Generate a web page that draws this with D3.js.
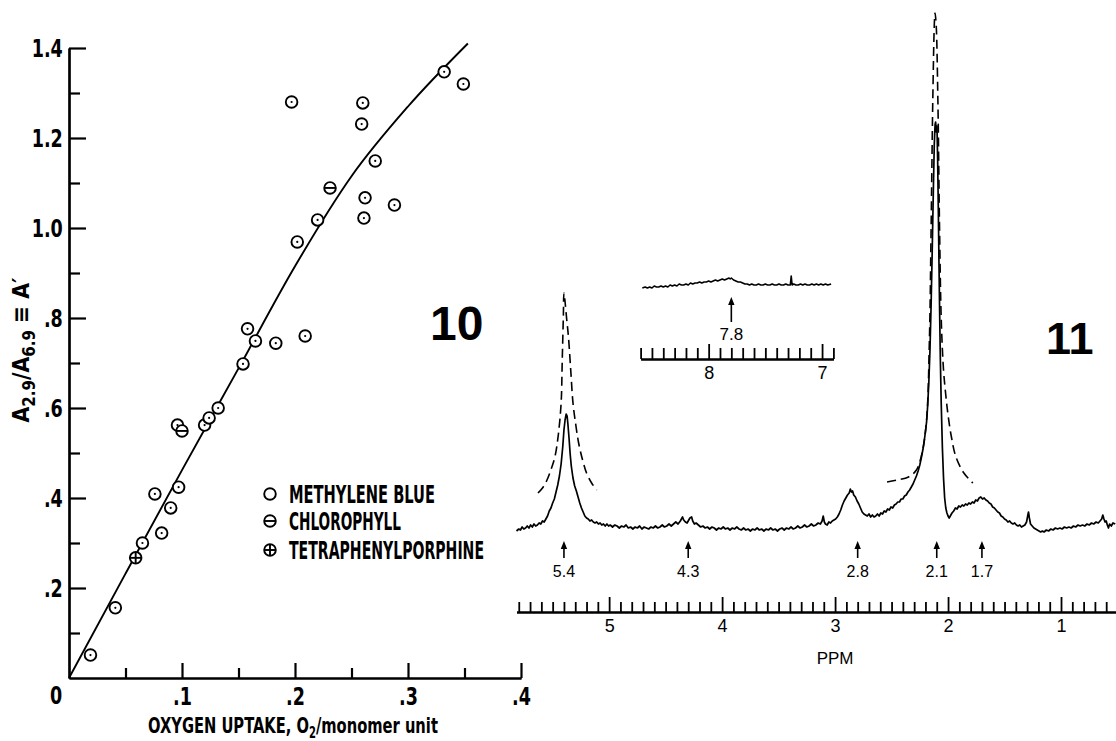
<!DOCTYPE html>
<html><head><meta charset="utf-8">
<script src="https://cdn.jsdelivr.net/npm/d3@7"></script>
<style>
  html,body{margin:0;padding:0;background:#fff}
  svg{display:block}
</style>
</head><body>
<svg id="fig" width="1116" height="741"></svg>
<script>
// ---------------- Fig. 10: A' versus oxygen uptake ----------------
const methyleneBlue = [
  [0.019,0.051],[0.041,0.156],[0.065,0.300],[0.076,0.409],[0.082,0.322],[0.090,0.378],
  [0.096,0.562],[0.097,0.424],[0.120,0.562],[0.124,0.578],[0.132,0.600],[0.154,0.698],
  [0.158,0.776],[0.165,0.749],[0.183,0.744],[0.197,1.280],[0.202,0.969],[0.209,0.760],
  [0.220,1.018],[0.259,1.231],[0.260,1.278],[0.261,1.022],[0.262,1.067],[0.271,1.149],
  [0.288,1.051],[0.332,1.347],[0.349,1.320]
];
const chlorophyll = [[0.100,0.549],[0.231,1.089]];
const tetraphenylporphine = [[0.059,0.267]];
const fitCurve = [[0,0],[0.05,0.232],[0.10,0.462],[0.15,0.688],[0.20,0.915],[0.25,1.115],[0.30,1.27],[0.353,1.41]];

const yMajorTicks = [0.2,0.4,0.6,0.8,1.0,1.2,1.4];
const yTickLabels = [".2",".4",".6",".8","1.0","1.2","1.4"];
const yMinorTicks = [0.1,0.3,0.5,0.7,0.9,1.1,1.3];
const xMajorTicks = [0.1,0.2,0.3,0.4];
const xTickLabels = [".1",".2",".3",".4"];
const xMinorTicks = [0.05,0.15,0.25,0.35];
const legendNames = ["METHYLENE BLUE","CHLOROPHYLL","TETRAPHENYLPORPHINE"];

// ---------------- Fig. 11: NMR spectrum ----------------
// [ppm, intensity] solid trace
const spectrumTrace = [
  [5.82,-1],[5.80,1],[5.785,0],[5.77,3],[5.755,1],[5.74,2],[5.725,4],[5.71,2],[5.695,5],[5.68,3],
  [5.665,6],[5.65,4],[5.635,5],[5.62,7],[5.605,6],[5.59,9],[5.575,8],[5.56,11],[5.545,14],[5.53,19],
  [5.515,22],[5.50,27],[5.485,31],[5.47,38],[5.455,45],[5.44,54],[5.425,66],[5.41,84],[5.40,100],
  [5.39,110],[5.38,116],[5.372,114],[5.365,106],[5.355,92],[5.345,76],[5.335,64],[5.32,52],[5.305,44],
  [5.29,39],[5.275,33],[5.26,27],[5.245,22],[5.23,18],[5.215,14],[5.20,12],[5.185,11],[5.17,9],
  [5.155,10],[5.14,8],[5.125,7],[5.11,8],[5.095,6],[5.08,7],[5.065,5],[5.05,6],[5.035,4],[5.02,6],
  [5.005,4],[4.99,5],[4.97,3],[4.95,5],[4.93,4],[4.91,2],[4.89,4],[4.87,3],[4.85,5],[4.83,2],[4.81,3],
  [4.79,1],[4.77,3],[4.75,2],[4.73,4],[4.71,1],[4.69,3],[4.67,2],[4.65,1],[4.63,3],[4.61,2],[4.59,4],
  [4.57,2],[4.55,3],[4.53,5],[4.51,3],[4.49,4],[4.47,6],[4.45,4],[4.43,6],[4.41,8],[4.39,6],[4.37,9],
  [4.35,13],[4.34,10],[4.325,8],[4.31,7],[4.30,9],[4.285,12],[4.27,13],[4.26,9],[4.245,6],[4.23,7],
  [4.21,5],[4.19,3],[4.17,4],[4.15,2],[4.13,3],[4.11,1],[4.09,3],[4.07,2],[4.05,0],[4.03,2],[4.01,1],
  [3.99,3],[3.97,1],[3.95,2],[3.93,0],[3.91,2],[3.89,1],[3.87,3],[3.85,1],[3.83,0],[3.81,2],[3.79,0],
  [3.77,1],[3.75,-1],[3.73,1],[3.71,0],[3.69,2],[3.67,0],[3.65,1],[3.63,-1],[3.61,1],[3.59,0],[3.57,2],
  [3.55,0],[3.53,1],[3.51,-1],[3.49,1],[3.47,2],[3.45,0],[3.43,2],[3.41,1],[3.39,3],[3.37,1],[3.35,2],
  [3.33,4],[3.31,2],[3.29,3],[3.27,5],[3.25,3],[3.23,4],[3.21,6],[3.19,4],[3.17,5],[3.15,7],[3.13,6],
  [3.115,9],[3.105,14],[3.095,8],[3.085,6],[3.07,5],[3.055,8],[3.04,7],[3.025,9],[3.01,10],[2.995,11],
  [2.98,13],[2.965,16],[2.95,20],[2.935,25],[2.92,29],[2.905,32],[2.89,35],[2.875,37],[2.865,41],
  [2.855,38],[2.845,39],[2.835,35],[2.82,33],[2.805,29],[2.79,26],[2.775,22],[2.76,18],[2.745,16],
  [2.73,15],[2.715,14],[2.70,16],[2.685,13],[2.67,15],[2.655,13],[2.64,14],[2.625,16],[2.61,14],
  [2.595,17],[2.58,16],[2.565,19],[2.55,18],[2.535,21],[2.52,20],[2.505,23],[2.49,22],[2.475,25],
  [2.46,26],[2.445,28],[2.43,28],[2.415,31],[2.40,31],[2.385,34],[2.37,35],[2.355,38],[2.34,40],
  [2.325,43],[2.31,46],[2.295,50],[2.28,54],[2.265,59],[2.25,65],[2.235,73],[2.22,82],[2.205,94],
  [2.19,108],[2.18,125],[2.17,148],[2.16,180],[2.15,225],[2.14,280],[2.13,340],[2.122,385],[2.115,405],
  [2.11,408],[2.104,398],[2.098,404],[2.092,370],[2.086,320],[2.08,265],[2.074,215],[2.068,170],
  [2.06,125],[2.05,82],[2.04,52],[2.03,32],[2.02,22],[2.01,17],[2.0,14],[1.99,12],[1.98,14],[1.965,17],
  [1.95,19],[1.935,22],[1.92,21],[1.905,24],[1.89,23],[1.875,25],[1.86,24],[1.845,26],[1.83,25],
  [1.815,27],[1.80,26],[1.785,28],[1.77,27],[1.755,30],[1.74,29],[1.725,32],[1.71,33],[1.695,31],
  [1.68,32],[1.665,30],[1.65,29],[1.635,27],[1.62,26],[1.605,23],[1.59,22],[1.575,20],[1.56,18],
  [1.545,17],[1.53,14],[1.515,13],[1.50,11],[1.485,10],[1.47,8],[1.455,9],[1.44,7],[1.425,6],[1.41,7],
  [1.395,5],[1.38,4],[1.365,5],[1.35,3],[1.335,4],[1.32,5],[1.305,8],[1.295,14],[1.288,18],[1.28,12],
  [1.27,6],[1.255,4],[1.24,2],[1.225,1],[1.21,0],[1.195,-1],[1.18,-2],[1.165,-1],[1.15,-2],[1.13,0],
  [1.11,-1],[1.09,1],[1.07,0],[1.05,2],[1.03,1],[1.01,2],[0.99,1],[0.97,3],[0.95,2],[0.93,3],[0.91,2],
  [0.89,4],[0.87,3],[0.85,5],[0.83,4],[0.81,5],[0.79,4],[0.77,6],[0.75,5],[0.73,7],[0.71,6],[0.69,8],
  [0.67,7],[0.655,9],[0.64,11],[0.63,15],[0.62,11],[0.61,8],[0.60,9],[0.59,5],[0.58,2],[0.57,6],
  [0.555,4],[0.54,7],[0.52,6]
];
// dashed traces (recorded at higher gain) over the two strong peaks
const dashedPeak54 = [
  [5.63,37],[5.59,42],[5.55,50],[5.51,62],[5.48,73],[5.45,95],[5.425,127],[5.415,170],
  [5.405,215],[5.40,237],[5.39,228],[5.375,210],[5.36,193],[5.34,160],[5.32,127],[5.295,105],
  [5.27,87],[5.235,70],[5.20,57],[5.155,47],[5.11,40]
];
const dashedPeak21 = [
  [2.54,48],[2.45,50],[2.35,53],[2.28,60],[2.23,77],[2.19,110],[2.165,190],[2.15,300],
  [2.135,430],[2.12,510],[2.115,517],[2.105,505],[2.09,430],[2.075,300],[2.06,210],[2.04,160],
  [2.02,135],[2.0,115],[1.97,93],[1.93,73],[1.86,57],[1.78,47]
];
const peakPositions = [5.4,4.3,2.8,2.1,1.7];
const peakLabels = ["5.4","4.3","2.8","2.1","1.7"];
const ppmMajorTicks = [5,4,3,2,1];
const ppmTickLabels = ["5","4","3","2","1"];

// inset: 8.6 – 6.9 ppm region
const insetTrace = [
  [8.585,2],[8.56,3],[8.54,2],[8.52,3],[8.50,2],[8.48,4],[8.46,3],[8.44,3],[8.42,4],[8.40,3],
  [8.38,4],[8.36,3],[8.34,5],[8.32,4],[8.30,5],[8.28,4],[8.26,6],[8.24,5],[8.22,5],[8.20,6],
  [8.18,5],[8.16,7],[8.14,6],[8.12,7],[8.10,7],[8.08,8],[8.06,7],[8.04,8],[8.02,8],[8.00,9],
  [7.98,8],[7.96,9],[7.94,10],[7.92,9],[7.90,10],[7.88,11],[7.86,10],[7.84,11],[7.82,12],[7.81,11],
  [7.80,12],[7.78,10],[7.76,9],[7.74,8],[7.72,8],[7.70,7],[7.68,6],[7.66,6],[7.64,5],[7.62,6],
  [7.60,5],[7.58,5],[7.56,6],[7.54,5],[7.52,5],[7.50,6],[7.48,5],[7.46,5],[7.44,6],[7.42,5],
  [7.40,5],[7.38,6],[7.36,5],[7.34,5],[7.32,6],[7.30,5],[7.28,5],[7.272,14],[7.264,5],[7.25,6],
  [7.23,5],[7.21,5],[7.19,6],[7.17,5],[7.15,6],[7.13,5],[7.11,5],[7.09,6],[7.07,5],[7.05,6],
  [7.03,5],[7.01,6],[6.99,5],[6.97,6],[6.95,5],[6.92,6]
];
const insetPeak = 7.8;
const insetPeakLabel = "7.8";
const insetMajorTicks = [8,7];
const insetTickLabels = ["8","7"];

// ------------------------------------------------------------------
const svg = d3.select('#fig');
const NARROW = '"Liberation Sans Narrow","DejaVu Sans Condensed","Arial Narrow",sans-serif';
const SANS = '"Liberation Sans",Arial,Helvetica,sans-serif';

// squeeze a text element horizontally so it spans a given width
function fitWidth(sel, target, anchorX) {
  const w = sel.node().getComputedTextLength();
  const k = target / w;
  sel.attr('transform', `translate(${anchorX},0) scale(${k},1) translate(${-anchorX},0)`);
}

// ====== panel 10 ======
const x10 = d3.scaleLinear().domain([0, 0.4]).range([69, 521]);
const y10 = d3.scaleLinear().domain([0, 1.4]).range([678, 48]);
const p10 = svg.append('g');

function styleAxis(g, w) {
  g.select('.domain').attr('stroke', '#000').attr('stroke-width', w);
  g.selectAll('.tick line').attr('stroke', '#000').attr('stroke-width', w);
}
function styleBoldLabels(g) {
  g.selectAll('.tick text')
    .attr('font-family', NARROW).attr('font-weight', 'bold').attr('font-size', 25)
    .attr('fill', '#000').attr('transform', 'scale(0.78,1)');
}

const yMinor = p10.append('g').attr('transform', 'translate(69,0)')
  .call(d3.axisLeft(y10).tickValues(yMinorTicks).tickSizeInner(-11).tickSizeOuter(0).tickFormat(''));
styleAxis(yMinor, 2.2);
const yMajor = p10.append('g').attr('transform', 'translate(69,0)')
  .call(d3.axisLeft(y10).tickValues(yMajorTicks).tickSizeInner(-17).tickSizeOuter(0).tickPadding(8)
    .tickFormat((d, i) => yTickLabels[i]));
styleAxis(yMajor, 2.2);
styleBoldLabels(yMajor);

const xMinor = p10.append('g').attr('transform', 'translate(0,678)')
  .call(d3.axisBottom(x10).tickValues(xMinorTicks).tickSizeInner(-10).tickSizeOuter(0).tickFormat(''));
styleAxis(xMinor, 2.2);
const xMajor = p10.append('g').attr('transform', 'translate(0,678)')
  .call(d3.axisBottom(x10).tickValues(xMajorTicks).tickSizeInner(-15).tickSizeOuter(0).tickPadding(9)
    .tickFormat((d, i) => xTickLabels[i]));
styleAxis(xMajor, 2.2);
styleBoldLabels(xMajor);

// shared origin label
p10.append('text').attr('x', 0).attr('y', 0)
  .attr('transform', `translate(${x10(0) - 13},704) scale(0.78,1)`)
  .attr('text-anchor', 'middle').attr('font-family', NARROW).attr('font-weight', 'bold')
  .attr('font-size', 25).text('0');

// axis titles
const xt = p10.append('text').attr('x', 148).attr('y', 733)
  .attr('font-family', NARROW).attr('font-weight', 'bold').attr('font-size', 22);
xt.append('tspan').text('OXYGEN  UPTAKE, O');
xt.append('tspan').attr('font-size', 15).attr('dy', 5).text('2');
xt.append('tspan').attr('dy', -5).text('/monomer unit');
fitWidth(xt, 290, 148);

const ytG = p10.append('g').attr('transform', 'translate(29,350) rotate(-90)');
const yt = ytG.append('text').attr('x', 0).attr('y', 0).attr('text-anchor', 'middle')
  .attr('font-family', NARROW).attr('font-weight', 'bold').attr('font-size', 23);
yt.append('tspan').text('A');
yt.append('tspan').attr('font-size', 17).attr('dy', 6).text('2.9');
yt.append('tspan').attr('dy', -6).text('/A');
yt.append('tspan').attr('font-size', 17).attr('dy', 6).text('6.9');
yt.append('tspan').attr('dy', -6).text(' \u2261 A\u2032');
fitWidth(yt, 145, 0);

// fitted curve
p10.append('path').datum(fitCurve)
  .attr('d', d3.line().x(d => x10(d[0])).y(d => y10(d[1])).curve(d3.curveMonotoneX))
  .attr('fill', 'none').attr('stroke', '#000').attr('stroke-width', 1.9);

// data symbols
const R = 5.8;
function drawSymbol(g, kind, withDot) {
  g.append('circle').attr('r', R).attr('fill', '#fff').attr('stroke', '#000').attr('stroke-width', 1.9);
  if (kind === 'mb' && withDot) g.append('circle').attr('r', 1.1).attr('fill', '#000');
  if (kind === 'chl' || kind === 'tpp')
    g.append('line').attr('x1', -R).attr('x2', R).attr('stroke', '#000').attr('stroke-width', 1.9);
  if (kind === 'tpp')
    g.append('line').attr('y1', -R).attr('y2', R).attr('stroke', '#000').attr('stroke-width', 1.9);
}
const allPoints = [
  ...methyleneBlue.map(d => ({x: d[0], y: d[1], k: 'mb'})),
  ...chlorophyll.map(d => ({x: d[0], y: d[1], k: 'chl'})),
  ...tetraphenylporphine.map(d => ({x: d[0], y: d[1], k: 'tpp'}))
].sort((a, b) => a.x - b.x);
p10.append('g').selectAll('g').data(allPoints).join('g')
  .attr('transform', d => `translate(${x10(d.x)},${y10(d.y)})`)
  .each(function (d) { drawSymbol(d3.select(this), d.k, true); });

// key
const keyKinds = ['mb', 'chl', 'tpp'];
const keyRows = [494, 521, 550];
const keyWidths = [146, 112, 195];
keyKinds.forEach((k, i) => {
  drawSymbol(p10.append('g').attr('transform', `translate(270,${keyRows[i]})`), k, false);
  p10.append('text').attr('x', 289).attr('y', keyRows[i] + 8.5)
    .attr('font-family', NARROW).attr('font-weight', 'bold').attr('font-size', 24)
    .attr('textLength', keyWidths[i]).attr('lengthAdjust', 'spacingAndGlyphs')
    .text(legendNames[i]);
});

p10.append('text').attr('x', 430).attr('y', 340).attr('font-family', SANS)
  .attr('font-weight', 'bold').attr('font-size', 48).text('10');

// ====== panel 11 ======
const xS = d3.scaleLinear().domain([5.82, 0.5]).range([516.5, 1117.5]);
const yS = d3.scaleLinear().domain([0, 520]).range([530, 10]);
const p11 = svg.append('g');

const dashedLine = d3.line().x(d => xS(d[0])).y(d => yS(d[1])).curve(d3.curveCatmullRom);
const traceLine = d3.line().x(d => xS(d[0])).y(d => yS(d[1]));
[dashedPeak54, dashedPeak21].forEach(arr => {
  p11.append('path').attr('d', dashedLine(arr))
    .attr('fill', 'none').attr('stroke', '#000').attr('stroke-width', 1.6)
    .attr('stroke-dasharray', '9,5');
});
p11.append('path').attr('d', traceLine(spectrumTrace))
  .attr('fill', 'none').attr('stroke', '#000').attr('stroke-width', 1.7)
  .attr('stroke-linejoin', 'round');

// peak arrows
function arrow(g, x, yTip, yEnd) {
  g.append('line').attr('x1', x).attr('x2', x).attr('y1', yTip + 5).attr('y2', yEnd)
    .attr('stroke', '#000').attr('stroke-width', 1.6);
  g.append('path').attr('d', `M${x},${yTip} L${x - 3.2},${yTip + 8} L${x + 3.2},${yTip + 8} Z`).attr('fill', '#000');
}
peakPositions.forEach((p, i) => {
  arrow(p11, xS(p), 541, 558);
  p11.append('text').attr('x', xS(p)).attr('y', 577).attr('text-anchor', 'middle')
    .attr('font-family', SANS).attr('font-size', 16).text(peakLabels[i]);
});

// ppm scale
const ppmMinor = d3.range(58, 4, -1).map(v => v / 10).filter(v => !ppmMajorTicks.includes(v));
const ax1 = p11.append('g').attr('transform', 'translate(0,612)')
  .call(d3.axisBottom(xS).tickValues(ppmMinor).tickSizeInner(-10).tickSizeOuter(0).tickFormat(''));
styleAxis(ax1, 1.8);
const ax2 = p11.append('g').attr('transform', 'translate(0,612)')
  .call(d3.axisBottom(xS).tickValues(ppmMajorTicks).tickSizeInner(-15).tickSizeOuter(0).tickPadding(7)
    .tickFormat((d, i) => ppmTickLabels[i]));
styleAxis(ax2, 1.8);
ax2.selectAll('.tick text').attr('font-family', SANS).attr('font-size', 18).attr('fill', '#000');
p11.append('text').attr('x', xS(3)).attr('y', 664).attr('text-anchor', 'middle')
  .attr('font-family', SANS).attr('font-size', 17).text('PPM');

// inset
const xI = d3.scaleLinear().domain([8.6, 6.9]).range([640.6, 833.4]);
const yI = d3.scaleLinear().domain([0, 20]).range([290, 270]);
p11.append('path')
  .attr('d', d3.line().x(d => xI(d[0])).y(d => yI(d[1]))(insetTrace))
  .attr('fill', 'none').attr('stroke', '#000').attr('stroke-width', 1.6).attr('stroke-linejoin', 'round');
arrow(p11, xI(insetPeak), 297, 322);
p11.append('text').attr('x', xI(insetPeak)).attr('y', 340).attr('text-anchor', 'middle')
  .attr('font-family', SANS).attr('font-size', 17).text(insetPeakLabel);
const insetMinor = d3.range(86, 68, -1).map(v => v / 10).filter(v => !insetMajorTicks.includes(v));
const ai1 = p11.append('g').attr('transform', 'translate(0,359)')
  .call(d3.axisBottom(xI).tickValues(insetMinor).tickSizeInner(-11).tickSizeOuter(0).tickFormat(''));
styleAxis(ai1, 1.8);
const ai2 = p11.append('g').attr('transform', 'translate(0,359)')
  .call(d3.axisBottom(xI).tickValues(insetMajorTicks).tickSizeInner(-15).tickSizeOuter(0).tickPadding(7)
    .tickFormat((d, i) => insetTickLabels[i]));
styleAxis(ai2, 1.8);
ai2.selectAll('.tick text').attr('font-family', SANS).attr('font-size', 18).attr('fill', '#000');

p11.append('text').attr('x', 1046).attr('y', 354).attr('font-family', SANS)
  .attr('font-weight', 'bold').attr('font-size', 45).text('11');
</script>
</body></html>
